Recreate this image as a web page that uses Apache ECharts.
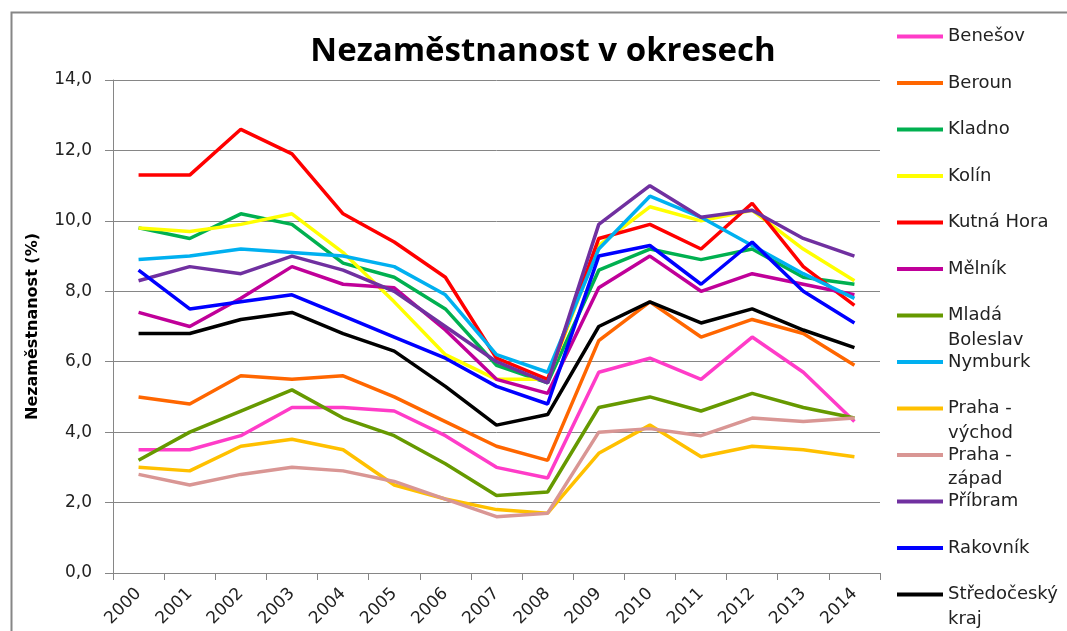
<!DOCTYPE html>
<html>
<head>
<meta charset="utf-8">
<script src="https://cdn.jsdelivr.net/npm/echarts@6/dist/echarts.min.js"></script>
<style>
  html, body { margin: 0; padding: 0; background: #fff; }
  #chart { width: 1067px; height: 631px; }
</style>
</head>
<body>
<div id="chart"></div>
<script>
// data
var years = ['2000', '2001', '2002', '2003', '2004', '2005', '2006', '2007', '2008', '2009', '2010', '2011', '2012', '2013', '2014'];
var yTicks = [0, 2, 4, 6, 8, 10, 12, 14];

var benesov      = [3.5, 3.5, 3.9, 4.7, 4.7, 4.6, 3.9, 3.0, 2.7, 5.7, 6.1, 5.5, 6.7, 5.7, 4.3];
var beroun       = [5.0, 4.8, 5.6, 5.5, 5.6, 5.0, 4.3, 3.6, 3.2, 6.6, 7.7, 6.7, 7.2, 6.8, 5.9];
var kladno       = [9.8, 9.5, 10.2, 9.9, 8.8, 8.4, 7.5, 5.9, 5.4, 8.6, 9.2, 8.9, 9.2, 8.4, 8.2];
var kolin        = [9.8, 9.7, 9.9, 10.2, 9.1, 7.7, 6.2, 5.5, 5.5, 9.3, 10.4, 10.0, 10.3, 9.2, 8.3];
var kutnaHora    = [11.3, 11.3, 12.6, 11.9, 10.2, 9.4, 8.4, 6.1, 5.5, 9.5, 9.9, 9.2, 10.5, 8.7, 7.6];
var melnik       = [7.4, 7.0, 7.8, 8.7, 8.2, 8.1, 6.9, 5.5, 5.1, 8.1, 9.0, 8.0, 8.5, 8.2, 7.9];
var mladaBoleslav = [3.2, 4.0, 4.6, 5.2, 4.4, 3.9, 3.1, 2.2, 2.3, 4.7, 5.0, 4.6, 5.1, 4.7, 4.4];
var nymburk      = [8.9, 9.0, 9.2, 9.1, 9.0, 8.7, 7.9, 6.2, 5.7, 9.2, 10.7, 10.1, 9.3, 8.5, 7.8];
var prahaVychod  = [3.0, 2.9, 3.6, 3.8, 3.5, 2.5, 2.1, 1.8, 1.7, 3.4, 4.2, 3.3, 3.6, 3.5, 3.3];
var prahaZapad   = [2.8, 2.5, 2.8, 3.0, 2.9, 2.6, 2.1, 1.6, 1.7, 4.0, 4.1, 3.9, 4.4, 4.3, 4.4];
var pribram      = [8.3, 8.7, 8.5, 9.0, 8.6, 8.0, 7.0, 6.0, 5.4, 9.9, 11.0, 10.1, 10.3, 9.5, 9.0];
var rakovnik     = [8.6, 7.5, 7.7, 7.9, 7.3, 6.7, 6.1, 5.3, 4.8, 9.0, 9.3, 8.2, 9.4, 8.0, 7.1];
var stredocesky  = [6.8, 6.8, 7.2, 7.4, 6.8, 6.3, 5.3, 4.2, 4.5, 7.0, 7.7, 7.1, 7.5, 6.9, 6.4];

var names = ['Benešov', 'Beroun', 'Kladno', 'Kolín', 'Kutná Hora', 'Mělník', 'Mladá Boleslav',
             'Nymburk', 'Praha - východ', 'Praha - západ', 'Příbram', 'Rakovník', 'Středočeský kraj'];
var values = [benesov, beroun, kladno, kolin, kutnaHora, melnik, mladaBoleslav,
              nymburk, prahaVychod, prahaZapad, pribram, rakovnik, stredocesky];
var colors = ['#ff3cc8', '#ff6600', '#00b050', '#ffff00', '#ff0000', '#c00099', '#669900',
              '#00b0f0', '#ffc000', '#d99694', '#7030a0', '#0000ff', '#000000'];
// wrapped legend labels; the blank first line keeps the icon beside the first word
var legendText = {
    'Mladá Boleslav': ' \nMladá\nBoleslav',
    'Praha - východ': ' \nPraha -\nvýchod',
    'Praha - západ': ' \nPraha -\nzápad',
    'Středočeský kraj': ' \nStředočeský\nkraj'
};

var chart = echarts.init(document.getElementById('chart'));

var series = names.map(function (n, i) {
    return {
        name: n,
        type: 'line',
        data: values[i],
        symbol: 'none',
        color: colors[i],
        lineStyle: { width: 3.5, color: colors[i] },
        z: 2 + i
    };
});

var LH = 24.5;
var legends = names.map(function (n, i) {
    var two = !!legendText[n];
    var cy = 36.5 + 46.5 * i;
    return {
        data: [n],
        orient: 'vertical',
        left: 892,
        top: two ? cy - 5 - 1.5 * LH : cy - 5 - LH / 2,
        icon: 'rect',
        itemWidth: 46,
        itemHeight: 4,
        selectedMode: false,
        formatter: function (name) { return legendText[name] || name; },
        textStyle: {
            fontFamily: 'DejaVu Sans',
            fontSize: 18,
            color: '#222',
            lineHeight: LH
        }
    };
});

var option = {
    backgroundColor: '#fff',
    animation: false,
    title: {
        text: 'Nezaměstnanost v okresech',
        left: 538,
        textAlign: 'center',
        top: 30,
        textStyle: {
            fontFamily: 'Open Sans',
            fontWeight: 'bold',
            fontSize: 33,
            color: '#000'
        }
    },
    graphic: [{
        type: 'rect',
        left: 9,
        top: 10,
        shape: { width: 1200, height: 800 },
        style: { fill: 'none', stroke: '#868686', lineWidth: 2 },
        silent: true
    }],
    legend: legends,
    grid: { left: 113, right: 187, top: 80, bottom: 58 },
    xAxis: {
        type: 'category',
        data: years,
        boundaryGap: true,
        axisLine: { lineStyle: { color: '#868686', width: 1 } },
        axisTick: { show: true, length: 7, lineStyle: { color: '#868686' } },
        axisLabel: {
            rotate: 45,
            interval: 0,
            margin: 18,
            fontFamily: 'DejaVu Sans',
            fontSize: 17,
            color: '#222'
        }
    },
    yAxis: {
        type: 'value',
        min: yTicks[0],
        max: yTicks[yTicks.length - 1],
        interval: 2,
        name: 'Nezaměstnanost (%)',
        nameLocation: 'middle',
        nameGap: 72,
        nameTextStyle: {
            fontFamily: 'DejaVu Sans',
            fontWeight: 'bold',
            fontSize: 16,
            color: '#000'
        },
        axisLine: { show: true, lineStyle: { color: '#868686', width: 1 } },
        axisTick: { show: true, length: 8, lineStyle: { color: '#868686' } },
        splitLine: { show: true, lineStyle: { color: '#868686', width: 1 } },
        axisLabel: {
            margin: 21,
            fontFamily: 'DejaVu Sans',
            fontSize: 17,
            color: '#222',
            formatter: function (v) { return v.toFixed(1).replace('.', ','); }
        }
    },
    series: series
};

chart.setOption(option);
</script>
</body>
</html>
